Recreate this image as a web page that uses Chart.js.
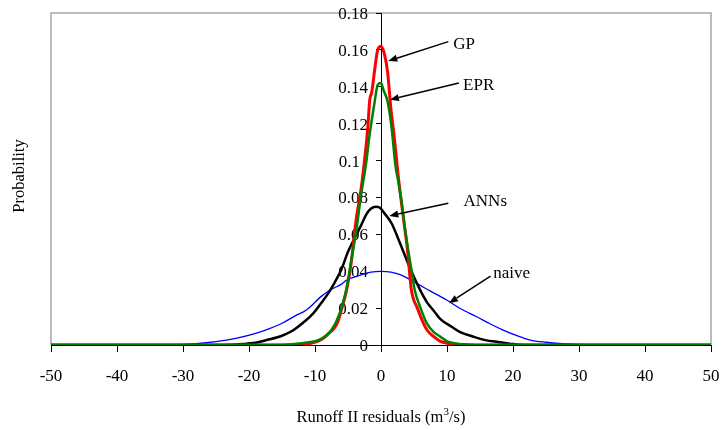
<!DOCTYPE html>
<html>
<head>
<meta charset="utf-8">
<script src="https://cdn.jsdelivr.net/npm/chart.js@4/dist/chart.umd.min.js"></script>
<style>
  html, body { margin: 0; padding: 0; background: #fff; }
  #wrap { width: 721px; height: 430px; position: relative; }
</style>
</head>
<body>
<div id="wrap"><canvas id="c" width="721" height="430"></canvas></div>
<script>
// ---- Data ----
const xTickValues = [-50, -40, -30, -20, -10, 0, 10, 20, 30, 40, 50];
const yTickLabels = ['0', '0.02', '0.04', '0.06', '0.08', '0.1', '0.12', '0.14', '0.16', '0.18'];

const gpPoints = [
  [-50, 0], [-14, 0], [-12, 0.0003], [-10.5, 0.001], [-9, 0.003], [-8, 0.006], [-7, 0.0095],
  [-6.5, 0.013], [-6, 0.019], [-5.2, 0.030], [-4.5, 0.045], [-3.8, 0.067], [-3, 0.085],
  [-2.5, 0.100], [-2, 0.118], [-1.7, 0.133], [-1.4, 0.137], [-1, 0.148], [-0.5, 0.160],
  [0, 0.162], [0.5, 0.158], [1, 0.148], [1.5, 0.128], [2, 0.113], [2.6, 0.092], [3, 0.080],
  [3.5, 0.066], [4, 0.052], [4.6, 0.030], [5.5, 0.020], [6.4, 0.012], [7, 0.008],
  [8, 0.0045], [9, 0.002], [10, 0.001], [12, 0.0003], [14, 0], [50, 0]
];
const eprPoints = [
  [-50, 0], [-16, 0], [-14, 0.0003], [-12, 0.001], [-10, 0.002], [-9, 0.0035], [-8, 0.006],
  [-7, 0.011], [-6.5, 0.015], [-6, 0.020], [-5.2, 0.031], [-4.5, 0.046], [-3.7, 0.063],
  [-3, 0.082], [-2.4, 0.095], [-2.2, 0.100], [-1.8, 0.112], [-1.4, 0.122], [-1, 0.131],
  [-0.5, 0.141], [0, 0.142], [0.4, 0.138], [1, 0.132], [1.6, 0.118], [2.2, 0.097],
  [2.6, 0.089], [3.1, 0.078], [3.6, 0.064], [4.1, 0.052], [4.6, 0.041], [5.1, 0.030],
  [6, 0.020], [6.9, 0.012], [8, 0.007], [9, 0.0045], [10, 0.002], [11, 0.001],
  [13, 0.0003], [16, 0], [50, 0]
];
const annPoints = [
  [-50, 0], [-24, 0], [-21, 0.0005], [-19, 0.0012], [-17.3, 0.0027], [-15, 0.005],
  [-13.3, 0.008], [-11.5, 0.013], [-10.3, 0.017], [-9, 0.023], [-8, 0.028], [-7, 0.034],
  [-6, 0.041], [-5, 0.0505], [-4, 0.058], [-3, 0.065], [-2.2, 0.071], [-1.5, 0.074],
  [-0.8, 0.075], [-0.2, 0.0745], [0.5, 0.0715], [1.6, 0.066], [2.9, 0.055], [4.3, 0.0425],
  [5.9, 0.030], [7, 0.023], [7.9, 0.019], [9, 0.014], [10.7, 0.0099], [12, 0.007],
  [14, 0.0045], [16, 0.0025], [17.5, 0.0018], [19, 0.001], [20, 0.0005], [22, 0], [50, 0]
];
const naivePoints = [
  [-50, 0], [-31, 0.0002], [-28, 0.0007], [-25, 0.0018], [-22, 0.0036], [-19, 0.0063],
  [-17, 0.0088], [-15, 0.0118], [-13, 0.0158], [-11.3, 0.019], [-9, 0.0265], [-7.7, 0.0298],
  [-6, 0.033], [-5.2, 0.0352], [-3, 0.038], [-1.5, 0.0395], [0, 0.0399], [1.5, 0.0395],
  [3, 0.038], [5.4, 0.0334], [7.5, 0.0292], [9.95, 0.0244], [12, 0.0198], [14.5, 0.0153],
  [16.5, 0.0115], [18.5, 0.0081], [20.5, 0.0052], [22.6, 0.0027], [25, 0.0015],
  [28, 0.0006], [31, 0.0002], [50, 0]
];

const seriesNames = ['EPR', 'GP', 'ANNs', 'naive'];

function toXY(arr) { return arr.map(p => ({ x: p[0], y: p[1] })); }

const FONT = '"Liberation Serif", "Times New Roman", serif';

// ---- Plugin: frame, y tick labels, axis titles and arrow annotations ----
const decor = {
  id: 'decor',
  beforeDraw(chart) {
    const { ctx, chartArea: a } = chart;
    ctx.save();
    ctx.strokeStyle = '#a6a6a6';
    ctx.lineWidth = 1.5;
    ctx.beginPath();
    ctx.moveTo(a.left, a.bottom);
    ctx.lineTo(a.left, a.top);
    ctx.lineTo(a.right, a.top);
    ctx.lineTo(a.right, a.bottom);
    ctx.stroke();
    ctx.restore();
  },
  beforeDatasetsDraw(chart) {
    // y tick labels, placed left of the centred y axis (drawn under the curves)
    const { ctx } = chart;
    const xs = chart.scales.x, ys = chart.scales.y;
    const axisX = xs.getPixelForValue(0);
    ctx.save();
    ctx.fillStyle = '#000';
    ctx.font = '17px ' + FONT;
    ctx.textAlign = 'right';
    ctx.textBaseline = 'middle';
    for (const t of yTickLabels) {
      const v = parseFloat(t);
      const extra = t === '0.1' ? 8 : 0;
      ctx.fillText(t, axisX - 13 - extra, ys.getPixelForValue(v) + 1.5);
    }
    ctx.restore();
  },
  afterDraw(chart) {
    const { ctx } = chart;
    const xs = chart.scales.x, ys = chart.scales.y;
    ctx.save();
    ctx.fillStyle = '#000';
    ctx.strokeStyle = '#000';

    // x axis title with superscript
    const main = 'Runoff II residuals (m';
    const sup = '3';
    const tail = '/s)';
    ctx.font = '16.5px ' + FONT;
    const w1 = ctx.measureText(main).width;
    const w3 = ctx.measureText(tail).width;
    ctx.font = '11px ' + FONT;
    const w2 = ctx.measureText(sup).width;
    const total = w1 + w2 + w3;
    const sx = (xs.left + xs.right) / 2 - total / 2;
    const ty = 418;
    ctx.textBaseline = 'middle';
    ctx.textAlign = 'left';
    ctx.font = '16.5px ' + FONT;
    ctx.fillText(main, sx, ty);
    ctx.font = '11px ' + FONT;
    ctx.fillText(sup, sx + w1, ty - 6);
    ctx.font = '16.5px ' + FONT;
    ctx.fillText(tail, sx + w1 + w2, ty);

    // y axis title
    ctx.save();
    ctx.translate(20, 176);
    ctx.rotate(-Math.PI / 2);
    ctx.textAlign = 'center';
    ctx.font = '16.5px ' + FONT;
    ctx.fillText('Probability', 0, 0);
    ctx.restore();

    // annotations: label position, arrow start and arrow tip, all in data units
    const notes = [
      { t: seriesNames[1], lx: 12.6, ly: 0.1627, ax: 10.2, ay: 0.1645, bx: 1.1, by: 0.154 },
      { t: seriesNames[0], lx: 14.8, ly: 0.1405, ax: 11.8, ay: 0.1420, bx: 1.35, by: 0.133 },
      { t: seriesNames[2], lx: 15.8, ly: 0.0780, ax: 10.2, ay: 0.0768, bx: 1.25, by: 0.0700 },
      { t: seriesNames[3], lx: 19.8, ly: 0.0390, ax: 16.6, ay: 0.0374, bx: 10.3, by: 0.0227 }
    ];
    ctx.font = '17px ' + FONT;
    ctx.textAlign = 'center';
    ctx.textBaseline = 'middle';
    for (const n of notes) {
      ctx.fillText(n.t, xs.getPixelForValue(n.lx), ys.getPixelForValue(n.ly));
      const x0 = xs.getPixelForValue(n.ax), y0 = ys.getPixelForValue(n.ay);
      const x1 = xs.getPixelForValue(n.bx), y1 = ys.getPixelForValue(n.by);
      const ang = Math.atan2(y1 - y0, x1 - x0);
      const hl = 9, hw = 3.5;
      const bxp = x1 - hl * Math.cos(ang), byp = y1 - hl * Math.sin(ang);
      ctx.lineWidth = 1.5;
      ctx.beginPath();
      ctx.moveTo(x0, y0);
      ctx.lineTo(bxp, byp);
      ctx.stroke();
      ctx.beginPath();
      ctx.moveTo(x1, y1);
      ctx.lineTo(bxp + hw * Math.sin(ang), byp - hw * Math.cos(ang));
      ctx.lineTo(bxp - hw * Math.sin(ang), byp + hw * Math.cos(ang));
      ctx.closePath();
      ctx.fill();
    }
    ctx.restore();
  }
};

const lineCommon = { pointRadius: 0, fill: false, cubicInterpolationMode: 'monotone' };
const zeroPad = (s) => { s.paddingLeft = 0; s.paddingRight = 0; s.paddingTop = 0; s.paddingBottom = 0; };

new Chart(document.getElementById('c'), {
  type: 'line',
  data: {
    datasets: [
      Object.assign({ label: seriesNames[0], data: toXY(eprPoints), borderColor: '#008000', borderWidth: 2.5 }, lineCommon),
      Object.assign({ label: seriesNames[1], data: toXY(gpPoints), borderColor: '#ff0000', borderWidth: 3 }, lineCommon),
      Object.assign({ label: seriesNames[2], data: toXY(annPoints), borderColor: '#000000', borderWidth: 2.5 }, lineCommon),
      Object.assign({ label: seriesNames[3], data: toXY(naivePoints), borderColor: '#0000ff', borderWidth: 1.3 }, lineCommon)
    ]
  },
  options: {
    responsive: false,
    animation: false,
    layout: { padding: { left: 51, right: 10, top: 13, bottom: 0 } },
    plugins: { legend: { display: false }, tooltip: { enabled: false } },
    scales: {
      x: {
        type: 'linear',
        min: -50, max: 50,
        afterBuildTicks: (s) => { s.ticks = xTickValues.map(v => ({ value: v })); },
        afterFit: (s) => { s.height = 85; zeroPad(s); },
        grid: { display: true, drawOnChartArea: false, drawTicks: true, tickLength: 7, color: '#000', lineWidth: 1 },
        border: { display: true, color: '#000', width: 1 },
        ticks: { color: '#000', font: { family: FONT, size: 17 }, padding: 14, maxRotation: 0, autoSkip: false }
      },
      y: {
        type: 'linear',
        position: { x: 0 },
        min: 0, max: 0.18,
        afterBuildTicks: (s) => { s.ticks = yTickLabels.map(t => ({ value: parseFloat(t) })); },
        afterFit: (s) => { zeroPad(s); },
        grid: { display: true, drawOnChartArea: false, drawTicks: true, tickLength: 5, color: '#000', lineWidth: 1 },
        border: { display: true, color: '#000', width: 1 },
        ticks: { display: false }
      }
    }
  },
  plugins: [decor]
});
</script>
</body>
</html>
